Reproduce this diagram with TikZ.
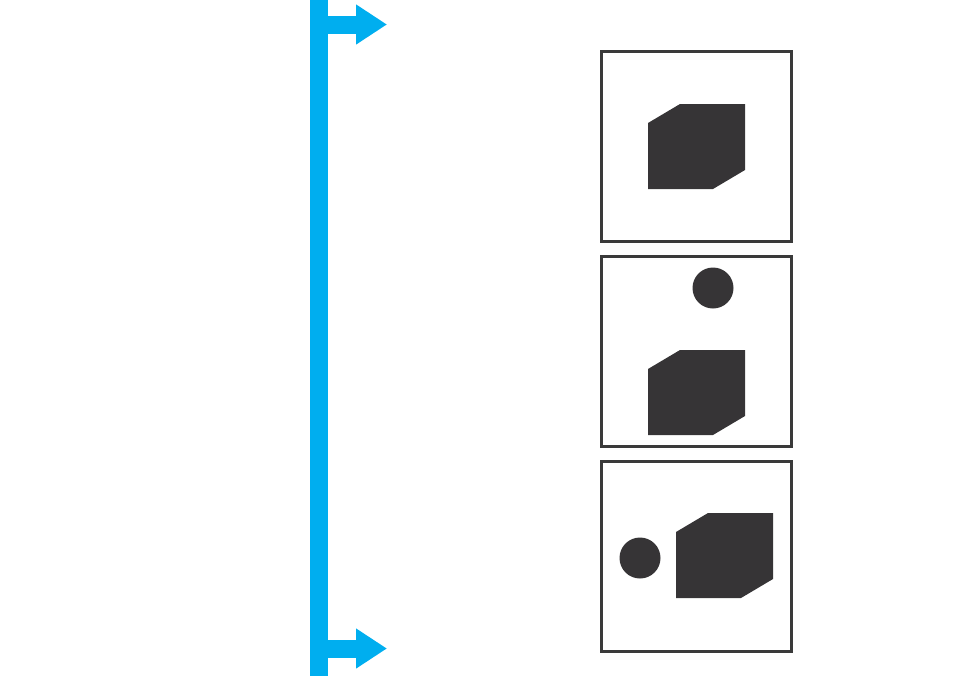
\documentclass[tikz,border=0pt]{standalone}
\usetikzlibrary{arrows.meta}
\definecolor{xanh}{HTML}{00AEEF}
\definecolor{xam}{HTML}{363436}
\definecolor{vien}{HTML}{3A3A3A}
\tikzset{
	khung/.style={draw=vien, line width=3pt},
	khoi/.style={fill=xam, draw=none},
	muiten/.style={xanh, line width=18pt, -{Triangle[length=31pt,width=38pt]}}
}
\begin{document}
\begin{tikzpicture}[x=1pt,y=-1pt,line join=miter]
			\useasboundingbox (0,0) rectangle (955,675);
			\def\rong{190} % cạnh khung
			% trục dọc và hai mũi tên
			\draw[xanh, line width=18pt] (319,-5)--(319,680);
			\coordinate (goc1) at (319,24.5);
			\coordinate (dau1) at (387,24.5);
			\coordinate (goc2) at (319,648.5);
			\coordinate (dau2) at (387,648.5);
			\draw[muiten] (goc1)--(dau1);
			\draw[muiten] (goc2)--(dau2);
			% ba khung
			\draw[khung] (601.5,51.5) rectangle +(\rong,\rong);
			\draw[khung] (601.5,256.5) rectangle +(\rong,\rong);
			\draw[khung] (601.5,461.5) rectangle +(\rong,\rong);
			% khối hộp
			\foreach \dx/\dy in {648/123, 648/369, 676/532}
			\fill[khoi,shift={(\dx,\dy)}] (0,0)--(32,-19)--(97,-19)--(97,47)--(65,66)--(0,66)--cycle;
			% hình tròn
			\fill[khoi] (713,288) circle (20.5);
			\fill[khoi] (640,558) circle (20.5);
\end{tikzpicture}
\end{document}
